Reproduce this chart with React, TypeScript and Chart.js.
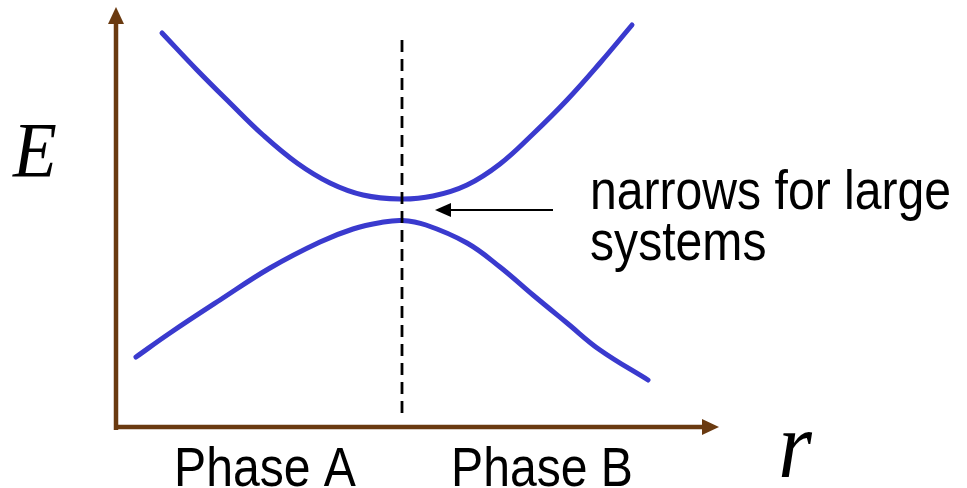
import React, { useEffect, useRef } from "react";
import { Chart, registerables } from "chart.js";

Chart.register(...registerables);

// Configuration coordinate r (x) and energy E (y), in arbitrary units, origin at the axes corner
const upperR = [0.46, 0.81, 1.14, 1.47, 1.81, 2.14, 2.47, 2.84, 3.17, 3.51, 3.84, 4.17, 4.51, 4.84, 5.16];
const upperE = [3.94, 3.57, 3.24, 2.92, 2.64, 2.44, 2.32, 2.28, 2.31, 2.42, 2.63, 2.93, 3.27, 3.64, 4.02];
const lowerR = [0.20, 0.54, 1.04, 1.54, 2.04, 2.37, 2.65, 2.86, 3.10, 3.51, 3.84, 4.17, 4.51, 4.84, 5.32];
const lowerE = [0.70, 0.94, 1.27, 1.59, 1.85, 1.98, 2.045, 2.065, 2.02, 1.84, 1.60, 1.32, 1.04, 0.77, 0.47];

const transitionR = 2.86;
const dashedSpan = [0.09, 3.87];
const axisEndR = 6.03;
const axisEndE = 4.2;

const annotationArrow = { fromR: 4.37, toR: 3.19, atE: 2.17 };
const annotationLines = ["narrows for large", "systems"];
const annotationPos = { r: 4.74, e: [2.18, 1.67] };
const phaseLabels = ["Phase A", "Phase B"];
const phasePos = [1.49, 4.26];
const phaseBaseE = -0.59;
const yAxisLabel = "E";
const xAxisLabel = "r";

const BROWN = "rgb(106,58,16)";
const BLUE = "rgb(58,58,206)";

function scaledText(ctx: CanvasRenderingContext2D, text: string, x: number, y: number, font: string, align: CanvasTextAlign, sx: number) {
  ctx.save();
  ctx.translate(x, y);
  ctx.scale(sx, 1);
  ctx.font = font;
  ctx.textAlign = align;
  ctx.textBaseline = "alphabetic";
  ctx.fillStyle = "#000";
  ctx.fillText(text, 0, 0);
  ctx.restore();
}

const decorPlugin = {
  id: "decor",
  beforeDatasetsDraw(chart: any) {
    const ctx: CanvasRenderingContext2D = chart.ctx;
    const xs = chart.scales.x;
    const ys = chart.scales.y;
    const ox = xs.getPixelForValue(0);
    const oy = ys.getPixelForValue(0);
    const ex = xs.getPixelForValue(axisEndR);
    const ey = ys.getPixelForValue(axisEndE);
    ctx.save();
    ctx.strokeStyle = BROWN;
    ctx.fillStyle = BROWN;
    ctx.lineWidth = 4.5;
    ctx.lineCap = "butt";
    // y axis
    ctx.beginPath();
    ctx.moveTo(ox, oy + 3);
    ctx.lineTo(ox, ey + 12);
    ctx.stroke();
    ctx.beginPath();
    ctx.moveTo(ox, ey);
    ctx.lineTo(ox - 8, ey + 17);
    ctx.lineTo(ox + 8, ey + 17);
    ctx.closePath();
    ctx.fill();
    // x axis
    ctx.beginPath();
    ctx.moveTo(ox - 2, oy);
    ctx.lineTo(ex - 12, oy);
    ctx.stroke();
    ctx.beginPath();
    ctx.moveTo(ex, oy);
    ctx.lineTo(ex - 17, oy - 8);
    ctx.lineTo(ex - 17, oy + 8);
    ctx.closePath();
    ctx.fill();
    ctx.restore();
  },
  afterDatasetsDraw(chart: any) {
    const ctx: CanvasRenderingContext2D = chart.ctx;
    const xs = chart.scales.x;
    const ys = chart.scales.y;
    ctx.save();
    // dashed transition line
    const dx = xs.getPixelForValue(transitionR);
    ctx.strokeStyle = "#000";
    ctx.lineWidth = 2.8;
    ctx.setLineDash([12, 7]);
    ctx.beginPath();
    ctx.moveTo(dx, ys.getPixelForValue(dashedSpan[1]));
    ctx.lineTo(dx, ys.getPixelForValue(dashedSpan[0]));
    ctx.stroke();
    ctx.setLineDash([]);
    // annotation arrow
    const ax1 = xs.getPixelForValue(annotationArrow.fromR);
    const ax2 = xs.getPixelForValue(annotationArrow.toR);
    const ay = ys.getPixelForValue(annotationArrow.atE);
    ctx.lineWidth = 2;
    ctx.beginPath();
    ctx.moveTo(ax1, ay);
    ctx.lineTo(ax2 + 10, ay);
    ctx.stroke();
    ctx.fillStyle = "#000";
    ctx.beginPath();
    ctx.moveTo(ax2, ay);
    ctx.lineTo(ax2 + 16, ay - 7);
    ctx.lineTo(ax2 + 16, ay + 7);
    ctx.closePath();
    ctx.fill();
    ctx.restore();

    const sans = "55px 'Liberation Sans', Arial, sans-serif";
    annotationLines.forEach((t, i) => {
      scaledText(ctx, t, xs.getPixelForValue(annotationPos.r), ys.getPixelForValue(annotationPos.e[i]), sans, "left", 0.875);
    });
    phaseLabels.forEach((t, i) => {
      scaledText(ctx, t, xs.getPixelForValue(phasePos[i]), ys.getPixelForValue(phaseBaseE), sans, "center", 0.875);
    });
    scaledText(ctx, yAxisLabel, 13, ys.getPixelForValue(2.51), "italic 78px 'Liberation Serif', 'Times New Roman', serif", "left", 0.92);
    scaledText(ctx, xAxisLabel, xs.getPixelForValue(6.79), ys.getPixelForValue(-0.5), "italic 96px 'Liberation Serif', 'Times New Roman', serif", "center", 0.9);
  },
};

export default function App() {
  const ref = useRef<HTMLCanvasElement | null>(null);
  useEffect(() => {
    document.body.style.margin = "0";
    if (!ref.current) return;
    const common = {
      showLine: true,
      borderColor: BLUE,
      borderWidth: 5,
      pointRadius: 0,
      tension: 0.4,
      borderCapStyle: "round",
      borderJoinStyle: "round",
    };
    const chart = new Chart(ref.current, {
      type: "scatter",
      data: {
        datasets: [
          { label: "upper", data: upperR.map((r, i) => ({ x: r, y: upperE[i] })), ...common },
          { label: "lower", data: lowerR.map((r, i) => ({ x: r, y: lowerE[i] })), ...common },
        ],
      },
      options: {
        animation: false,
        responsive: false,
        layout: { padding: 0 },
        plugins: { legend: { display: false }, tooltip: { enabled: false } },
        scales: {
          x: { type: "linear", min: -1.16, max: 8.51, display: false },
          y: { type: "linear", min: -0.61, max: 4.27, display: false },
        },
      },
      plugins: [decorPlugin],
    } as any);
    return () => chart.destroy();
  }, []);
  return <canvas ref={ref} width={967} height={488} style={{ display: "block" }} />;
}
